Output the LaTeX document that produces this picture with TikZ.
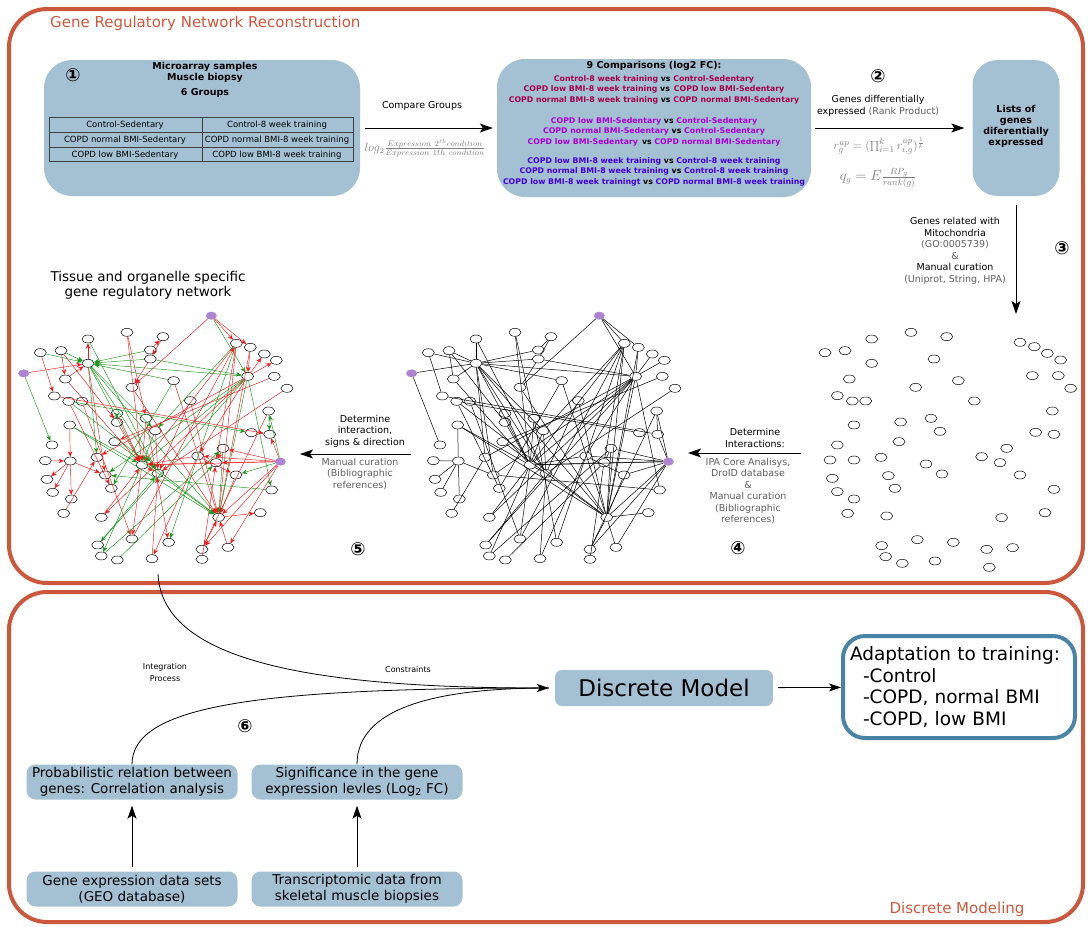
\documentclass[tikz,border=0pt]{standalone}
\usepackage{fontspec}
\setmainfont{DejaVu Sans}
\usetikzlibrary{shapes.geometric,arrows.meta,calc}

\definecolor{framered}{RGB}{205,87,60}
\definecolor{boxblue}{RGB}{164,193,211}
\definecolor{adaptblue}{RGB}{72,132,166}
\definecolor{cmpA}{RGB}{165,0,75}
\definecolor{cmpB}{RGB}{170,0,212}
\definecolor{cmpC}{RGB}{68,0,212}
\definecolor{softgrey}{RGB}{95,95,95}
\definecolor{mathgrey}{RGB}{125,125,125}
\definecolor{nodepurple}{RGB}{172,132,210}
\definecolor{edgered}{RGB}{238,25,25}
\definecolor{edgegreen}{RGB}{25,150,25}

\newcommand{\setfs}[2]{\fontsize{#1}{#2}\selectfont}
\newcommand{\cvs}{{\color{black}vs}}

% gene layout shared by the two connected networks (local units)
\def\genelist{p1/598/47/pnode, p2/35/220/pnode, p3/805/485/pnode,
a1/228/117/gene, a2/345/97/gene, a3/453/110/gene, a4/85/158/gene, a5/147/152/gene,
a6/228/190/gene, a7/415/150/gene, a8/415/177/gene, a9/160/237/gene, a10/360/262/gene,
a11/485/242/gene, a12/673/130/gene, a13/715/142/gene, a14/757/162/gene, a15/793/181/gene,
a16/707/229/gene, a17/787/229/gene, a18/825/265/gene, a19/127/288/gene, a20/170/304/gene,
a21/210/304/gene, a22/535/302/gene, a23/315/340/gene, a24/402/355/gene, a25/430/392/gene,
a26/770/333/gene, a27/173/375/gene, a28/308/425/gene, a29/315/367/gene, a30/718/398/gene,
a31/773/403/gene, a32/120/435/gene, a33/100/482/gene, a34/175/483/gene, a35/255/472/gene,
a36/390/495/gene, a37/438/520/gene, a38/557/468/gene, a39/633/445/gene, a40/612/488/gene,
a41/672/525/gene, a42/280/525/gene, a43/105/538/gene, a44/122/577/gene, a45/178/597/gene,
a46/298/565/gene, a47/779/570/gene, a48/155/640/gene, a49/268/652/gene, a50/620/652/gene,
a51/745/638/gene, a52/257/735/gene, a53/360/717/gene, a54/470/727/gene, a55/570/748/gene,
a56/648/742/gene, a57/268/768/gene, a58/316/780/gene, a59/420/776/gene, a60/570/778/gene}

% interactions: source/target/sign style
\def\edgelist{p1/a12/rd, p1/a13/rd, p1/a16/gn, p1/a10/rd, p2/a6/rd, p2/a32/gn,
a6/a1/rd, a4/a6/gn, a5/a6/gn, a7/a6/gn, a8/a6/gn, a11/a6/gn, a16/a6/gn, a6/a36/gn,
a6/a37/gn, a6/a50/gn, a6/a35/gn, a9/a6/rd, a6/a42/rd, a6/a25/gn, a2/a24/rd, a7/a3/rd,
a5/a29/rd, a12/a36/rd, a12/a50/rd, a12/a25/gn, a12/a54/gn, a12/a40/rd, a13/a50/rd,
a13/a16/rd, a16/a14/rd, a16/a15/rd, a16/a36/gn, a16/a38/rd, a16/a42/gn, a16/a49/rd,
a16/a50/gn, a16/a52/gn, a16/a35/rd, a16/a47/gn, a17/a28/rd, a18/a37/rd, a19/a31/rd,
a20/a30/gn, a20/a46/rd, a21/a53/rd, a22/a50/rd, a22/a37/rd, a23/a29/gn, a23/a36/rd,
a24/a36/rd, a24/a54/rd, a25/a36/gn, a25/a37/rd, a26/a31/gn, a26/a55/rd, a27/a50/gn,
a20/a50/gn, a27/a34/rd, a27/a36/gn, a33/a34/rd, a34/a43/rd, a34/a44/rd, a34/a45/rd,
a34/a42/rd, a36/a37/rd, a36/a53/rd, a36/a57/gn, a38/a36/rd, a36/a40/rd, a38/a41/rd,
a38/a59/rd, a39/a50/gn, a39/a40/rd, a41/a50/rd, p3/a38/rd, p3/a39/rd, p3/a40/rd,
p3/a41/gn, p3/a50/rd, p3/a55/rd, p3/a56/rd, p3/a31/rd, p3/a26/gn, p3/a36/rd, a47/a42/gn,
a48/a35/rd, a49/a36/rd, a50/a51/rd, a55/a50/rd, a10/a50/rd, a56/a50/rd, a52/a37/gn,
a57/a39/gn, a59/a37/rd, a60/a40/rd, a58/a40/gn, a53/a12/rd, a9/a36/rd, a11/a50/rd,
a11/a46/gn, a8/a10/rd, a8/a16/gn, a3/a8/rd, a2/a36/rd, a28/a50/gn, a29/a36/rd,
a1/a37/gn, a5/a9/rd, a4/a19/rd}

% mitochondrial gene set before interactions are added (local units)
\def\looselist{r1/215/87, r2/333/67, r3/440/80, r4/75/128, r5/135/122, r6/215/160,
r7/402/147, r8/148/207, r9/347/232, r10/475/212, r11/112/257, r12/157/273, r13/197/273,
r14/523/273, r15/660/97, r16/703/110, r17/742/130, r18/782/150, r19/697/197, r20/775/197,
r21/812/235, r22/757/303, r23/162/345, r24/302/336, r25/393/325, r26/420/364, r27/707/367,
r28/762/373, r29/297/395, r30/112/405, r31/620/415, r32/90/450, r33/162/450, r34/243/442,
r35/545/440, r36/600/458, r37/378/462, r38/426/492, r39/660/495, r40/265/497, r41/97/505,
r42/285/535, r43/112/545, r44/162/567, r45/762/538, r46/143/610, r47/260/618, r48/605/623,
r49/735/608, r50/245/707, r51/352/689, r52/460/697, r53/560/718, r54/638/713, r55/257/740,
r56/307/760, r57/405/753, r58/568/772}

\begin{document}
\begin{tikzpicture}[x=1pt,y=-1pt,
  frame/.style={draw=framered, line width=4pt, rounded corners=38pt},
  bluebox/.style={fill=boxblue, rounded corners=28pt, inner sep=0pt},
  gene/.style={ellipse, draw, line width=0.5pt, minimum width=12pt, minimum height=8pt, inner sep=0pt},
  pnode/.style={ellipse, fill=nodepurple, minimum width=11pt, minimum height=8pt, inner sep=0pt},
  netline/.style={draw=black, line width=0.5pt},
  rd/.style={draw=edgered, line width=0.45pt, -{Stealth[length=5.5pt,width=4.5pt]}},
  gn/.style={draw=edgegreen, line width=0.45pt, -{Stealth[length=5.5pt,width=4.5pt]}},
  bigarrow/.style={line width=1pt, -{Stealth[length=13pt,width=9pt,inset=3pt]}},
  thinarrow/.style={line width=0.8pt, -{Stealth[length=12pt,width=8pt,inset=3pt]}},
  lbl/.style={inner sep=0pt, align=center, font=\setfs{9.5}{11.5}},
  num/.style={inner sep=0pt, font=\setfs{18}{18}\bfseries},
  cmp/.style={inner sep=0pt, font=\setfs{7.8}{9}\bfseries},
  cell/.style={inner sep=0pt, font=\setfs{8.5}{10}},
  lbox/.style={fill=boxblue, rounded corners=9pt, align=center, inner sep=0pt,
     minimum width=211pt, minimum height=35pt, font=\setfs{13.5}{15.5}}
]
\useasboundingbox (0,0) rectangle (1091,926);

% ---------- section frames ----------
\draw[frame] (9,9) rectangle (1083,583);
\draw[frame] (9,592) rectangle (1083,922);
\node[anchor=west, inner sep=0pt, text=framered, font=\setfs{15}{18}] (gtitle) at (50,23) {Gene Regulatory Network Reconstruction};
\node[inner sep=0pt, text=framered, font=\setfs{15}{18}] (dtitle) at (957,909) {Discrete Modeling};

% ---------- step 1: samples ----------
\node[bluebox, minimum width=316pt, minimum height=136pt] (groups) at (202,128) {};
\node[num] (n1) at (73,75) {①};
\node[inner sep=0pt, font=\setfs{9.5}{11}\bfseries, align=center] (samp) at (205,72) {Microarray samples\\Muscle biopsy};
\node[inner sep=0pt, font=\setfs{9.5}{11}\bfseries] (six) at (205,93) {6 Groups};
\draw[line width=0.6pt, black!75] (49,117) rectangle (353,161);
\draw[line width=0.6pt, black!75] (49,132) -- (353,132) (49,147) -- (353,147) (202,117) -- (202,161);
\node[cell] (t11) at (125,125) {Control-Sedentary};
\node[cell] (t12) at (277,125) {Control-8 week training};
\node[cell] (t21) at (125,140) {COPD normal BMI-Sedentary};
\node[cell] (t22) at (277,140) {COPD normal BMI-8 week training};
\node[cell] (t31) at (125,155) {COPD low BMI-Sedentary};
\node[cell] (t32) at (277,155) {COPD low BMI-8 week training};

% ---------- comparisons ----------
\node[bluebox, minimum width=314pt, minimum height=138pt] (comps) at (654,128) {};
\node[inner sep=0pt, font=\setfs{9.5}{11}\bfseries] (c0) at (654,66) {9 Comparisons (log2 FC):};
\node[cmp, text=cmpA] (c1) at (654,79) {Control-8 week training \cvs{} Control-Sedentary};
\node[cmp, text=cmpA] (c2) at (654,89.5) {COPD low BMI-8 week training \cvs{}\, COPD low BMI-Sedentary};
\node[cmp, text=cmpA] (c3) at (654,100) {COPD normal BMI-8 week training \cvs{} COPD normal BMI-Sedentary};
\node[cmp, text=cmpB] (c4) at (654,121) {COPD low BMI-Sedentary \cvs{} Control-Sedentary};
\node[cmp, text=cmpB] (c5) at (654,131) {COPD normal BMI-Sedentary \cvs{} Control-Sedentary};
\node[cmp, text=cmpB] (c6) at (654,142) {COPD low BMI-Sedentary\, \cvs{} COPD normal BMI-Sedentary};
\node[cmp, text=cmpC] (c7) at (654,161) {COPD low BMI-8 week training \cvs{} Control-8 week training};
\node[cmp, text=cmpC] (c8) at (654,171) {COPD normal BMI-8 week training \cvs{} Control-8 week training};
\node[cmp, text=cmpC] (c9) at (654,182) {COPD low BMI-8 week trainingt \cvs{} COPD normal BMI-8 week training};

\draw[bigarrow, shorten <=5pt, shorten >=4pt] (groups) -- (comps);
\node[lbl] (cg) at (422,106) {Compare Groups};
\node[inner sep=0pt, text=mathgrey, font=\setfs{11.5}{13}] (fc) at (425,148)
  {$log_2\frac{Expression\ 2^{th} condition}{Expression\ 1th\ condition}$};

% ---------- step 2: differential expression ----------
\node[bluebox, rounded corners=25pt, minimum width=87pt, minimum height=136pt] (lists) at (1016,128) {};
\node[inner sep=0pt, align=center, font=\setfs{9.5}{11}\bfseries] (liststxt) at (1016,126)
  {Lists of\\genes\\diferentially\\expressed};
\draw[bigarrow, shorten <=4pt, shorten >=8pt] (comps) -- (lists);
\node[num] (n2) at (878,76) {②};
\node[lbl] (rp) at (878,106) {Genes differentially\\expressed {\color{softgrey}(Rank Product)}};
\node[inner sep=0pt, text=mathgrey, font=\setfs{13}{15}] (f1) at (879,146)
  {$r_g^{up}=(\prod_{i=1}^{k} r_{i,g}^{up})^{\frac{1}{k}}$};
\node[inner sep=0pt, text=mathgrey, font=\setfs{13.5}{15}] (f2) at (878,178)
  {$q_g=E\frac{RP_g}{rank(g)}$};

% ---------- step 3: mitochondrial genes ----------
\coordinate (netin) at (1016,314);
\draw[bigarrow, shorten <=9pt] (lists) -- (netin);
\node[num] (n3) at (1062,248) {③};
\node[lbl] (mito) at (955,251) {Genes related with\\Mitochondria\\{\color{softgrey}(GO:0005739)}\\{\color{softgrey}\&}\\Manual curation\\{\color{softgrey}(Uniprot, String, HPA)}};

\begin{scope}[xshift=800pt, yshift=-310pt, x=0.3333pt, y=-0.3333pt]
  \foreach \n/\x/\y in \looselist {\node[gene] (\n) at (\x,\y) {};}
\end{scope}

% ---------- step 4: interactions ----------
\coordinate (r4a) at (801,453);
\coordinate (r4b) at (688,453);
\draw[bigarrow] (r4a) -- (r4b);
\node[lbl] (det4) at (755,438) {Determine\\Interactions:};
\node[lbl, text=softgrey] (ipa) at (748,491) {IPA Core Analisys,\\DroID database\\\&\\Manual curation\\(Bibliographic\\references)};
\node[num] (n4) at (738,548) {④};

\begin{scope}[xshift=400pt, yshift=-300pt, x=0.3333pt, y=-0.3333pt]
  \foreach \n/\x/\y/\s in \genelist {\node[\s] (m\n) at (\x,\y) {};}
  \foreach \a/\b/\c in \edgelist {\draw[netline] (m\a) -- (m\b);}
\end{scope}

% ---------- step 5: signs and direction ----------
\coordinate (r5a) at (411,454);
\coordinate (r5b) at (300,454);
\draw[bigarrow] (r5a) -- (r5b);
\node[lbl] (det5) at (365,431) {Determine\\interaction,\\signs \& direction};
\node[lbl, text=softgrey] (man5) at (360,474) {Manual curation\\(Bibliographic\\references)};
\node[num] (n5) at (358,549) {⑤};

\node[inner sep=0pt, align=center, font=\setfs{13.5}{15}] (nettitle) at (148,285)
  {Tissue and organelle specific\\gene regulatory network};

\begin{scope}[xshift=12pt, yshift=-300pt, x=0.3333pt, y=-0.3333pt]
  \foreach \n/\x/\y/\s in \genelist {\node[\s] (l\n) at (\x,\y) {};}
  \foreach \a/\b/\c in \edgelist {\draw[\c] (l\a) -- (l\b);}
\end{scope}

% ---------- discrete modeling ----------
\node[fill=boxblue, rounded corners=7pt, minimum width=218pt, minimum height=36pt, inner sep=0pt,
      font=\setfs{23}{26}] (dm) at (664,688) {Discrete Model};
\node[draw=adaptblue, line width=4pt, rounded corners=22pt, fill=white, minimum width=232pt,
      minimum height=102pt, text width=218pt, inner xsep=0pt, align=left, font=\setfs{18.5}{21.5}]
      (adapt) at (959,687)
      {Adaptation to training:\\\hspace*{13pt}-Control\\\hspace*{13pt}-COPD, normal BMI\\\hspace*{13pt}-COPD, low BMI};
\draw[thinarrow, shorten <=5pt] (dm) -- (adapt);

\node[lbox] (prob) at (132,782) {Probabilistic relation between\\genes: Correlation analysis};
\node[lbox] (sig) at (357,782) {Significance in the gene\\expression levles (Log\textsubscript{2} FC)};
\node[lbox] (geo) at (132,889) {Gene expression data sets\\(GEO database)};
\node[lbox] (tra) at (357,889) {Transcriptomic data from\\skeletal muscle biopsies};
\draw[bigarrow, shorten <=4pt, shorten >=6pt] (geo) -- (prob);
\draw[bigarrow, shorten <=4pt, shorten >=6pt] (tra) -- (sig);

\coordinate (netout) at (158,574);
\draw[thinarrow, shorten >=6pt] (netout) .. controls (162,655) and (290,688) .. (dm.west);
\draw[line width=0.8pt, shorten >=6pt] (prob.north) .. controls (132,705) and (260,688) .. (dm.west);
\draw[line width=0.8pt, shorten >=6pt] (sig.north) .. controls (357,710) and (430,688) .. (dm.west);
\node[inner sep=0pt, align=center, font=\setfs{8}{12}] (integ) at (165,673) {Integration\\Process};
\node[inner sep=0pt, font=\setfs{8}{10}] (cons) at (408,670) {Constraints};
\node[num] (n6) at (245,726) {⑥};
\end{tikzpicture}
\end{document}
